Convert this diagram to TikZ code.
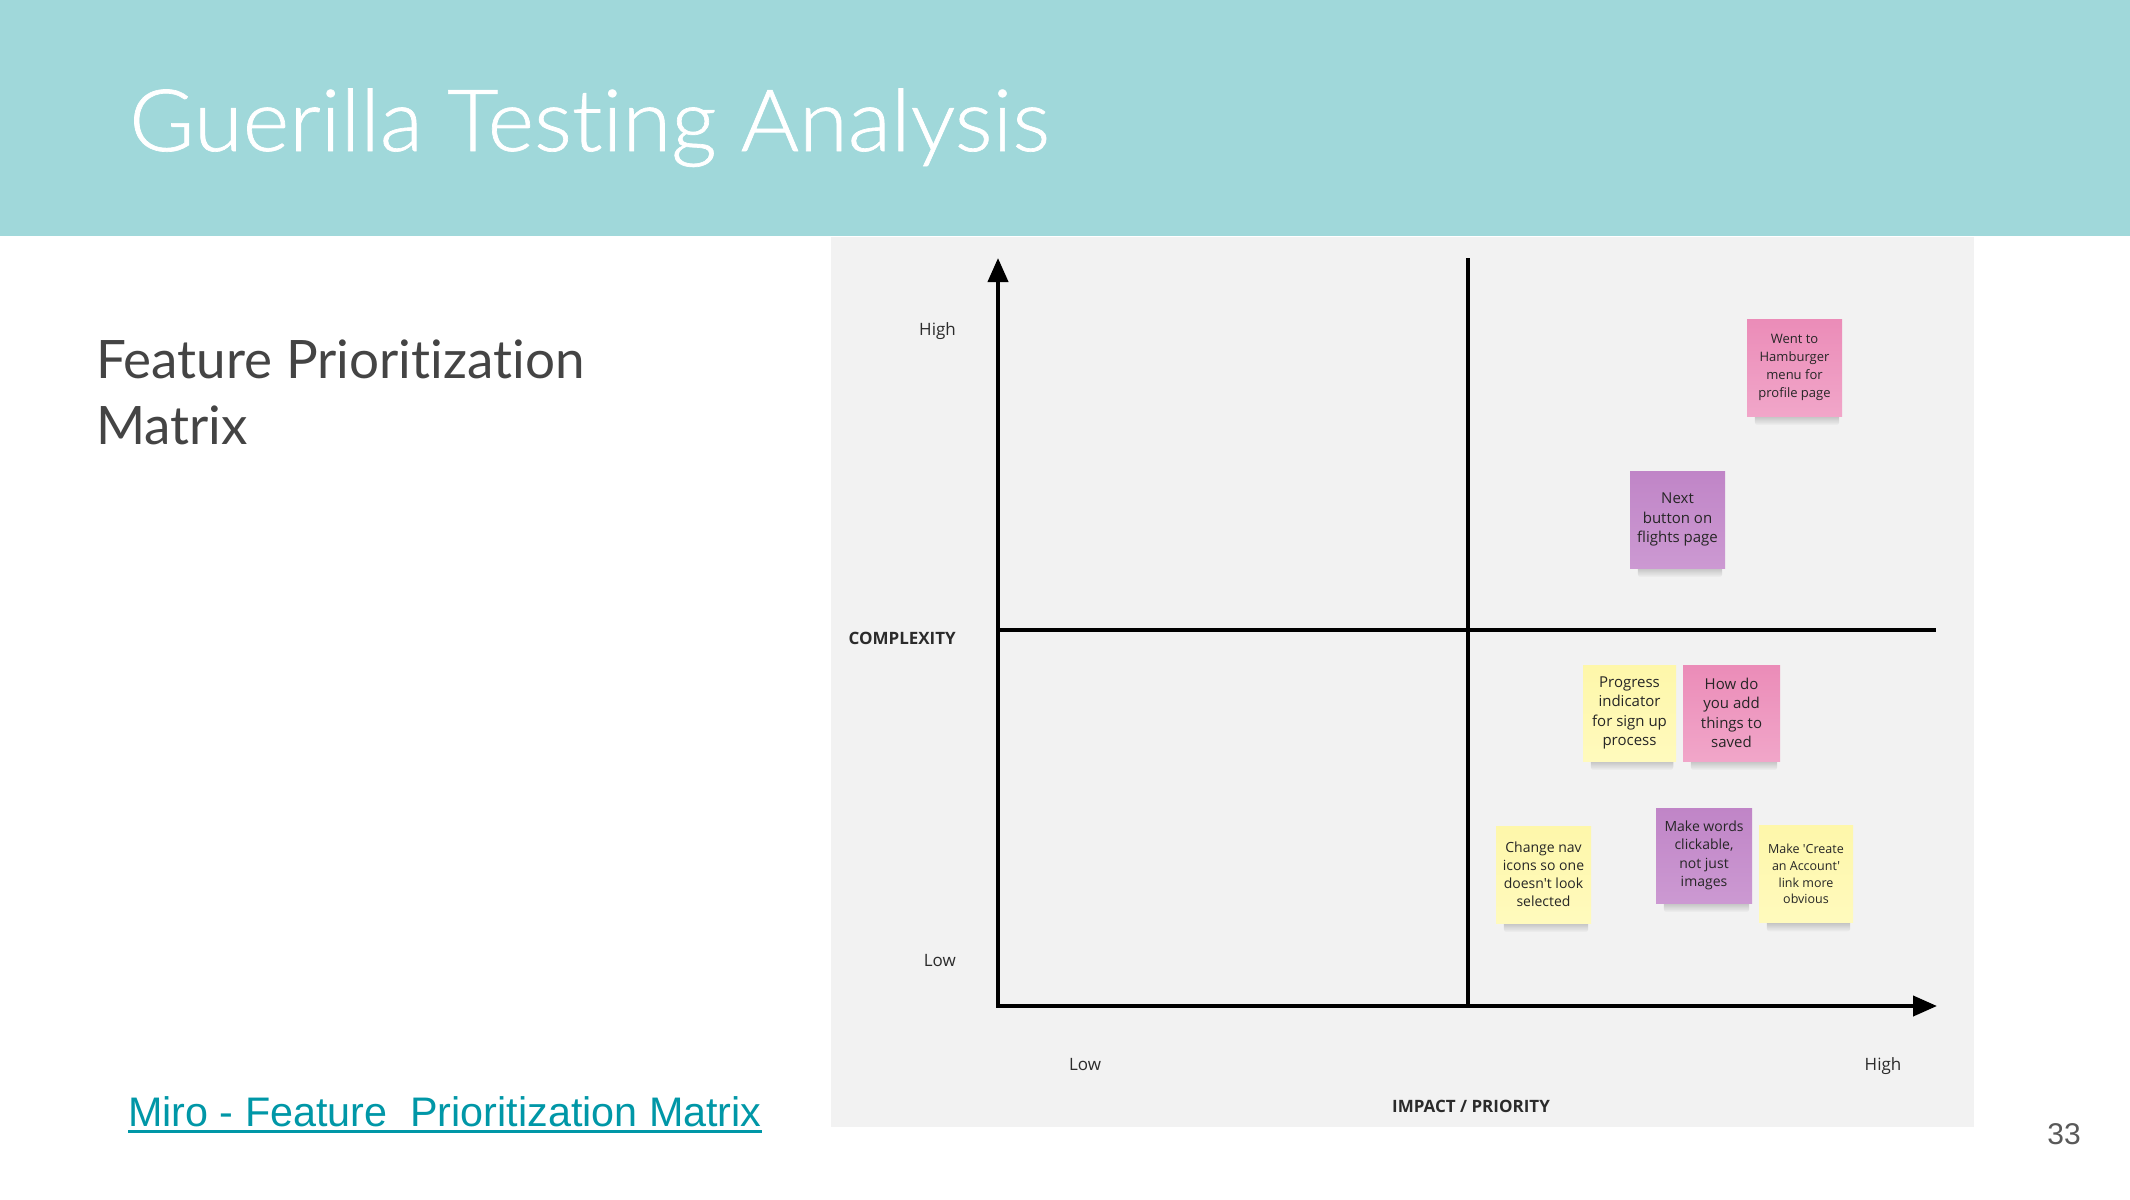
\documentclass[tikz,border=0pt]{standalone}
\usepackage{fontspec}
\setmainfont{Open Sans}[Ligatures=TeXOff]
\IfFontExistsTF{Lato Light}
  {\newfontfamily\latofont{Lato Light}[Ligatures=NoCommon,FakeStretch=1.035,FakeBold=0.8]}
  {\newfontfamily\latofont{Lato}[Ligatures=NoCommon,FakeStretch=1.035]}
\newfontfamily\latosub{Lato}[Ligatures=NoCommon]
\newfontfamily\arialfont{Liberation Sans}
\usetikzlibrary{arrows.meta,fadings}
\definecolor{headc}{HTML}{A0D8DA}
\definecolor{panelc}{HTML}{F2F2F2}
\definecolor{linkc}{HTML}{0097A7}
\definecolor{subc}{HTML}{444444}
\definecolor{numc}{HTML}{595959}
\definecolor{lblc}{HTML}{2B2B2B}
\definecolor{notetext}{HTML}{262626}
\definecolor{pinktop}{HTML}{EB8CB8}
\definecolor{pinkbot}{HTML}{F1A6C9}
\definecolor{purptop}{HTML}{C085C7}
\definecolor{purpbot}{HTML}{CC99D2}
\definecolor{yeltop}{HTML}{FEF7AA}
\definecolor{yelbot}{HTML}{FFFABD}
\pgfdeclarelayer{bg}
\pgfdeclarelayer{shade}
\pgfsetlayers{bg,shade,main}
\newcommand{\noteshadow}[1]{%
  \fill[black, opacity=0.28, path fading=south, rounded corners=3pt]
    ([xshift=8pt,yshift=4pt]#1.south west) rectangle ([xshift=-3pt,yshift=-9pt]#1.south east);}
\begin{document}
\begin{tikzpicture}[x=1pt,y=-1pt,
  axisline/.style={line width=4pt, black},
  lbl/.style={font=\fontsize{17}{20}\selectfont, text=lblc, inner sep=0pt},
  boldlbl/.style={font=\fontsize{17}{20}\selectfont\bfseries, text=lblc, inner sep=0pt},
  note/.style={minimum width=95pt, minimum height=97pt, inner sep=1pt, align=center,
    text=notetext, font=\fontsize{14}{18.2}\selectfont},
  pinknote/.style={note, top color=pinktop, bottom color=pinkbot},
  purpnote/.style={note, top color=purptop, bottom color=purpbot},
  yelnote/.style={note, top color=yeltop, bottom color=yelbot}
]
\useasboundingbox (0,0) rectangle (2130,1199);
\begin{pgfonlayer}{bg}
  \fill[white] (0,0) rectangle (2130,1199);
  \fill[headc] (0,0) rectangle (2130,236);
  \fill[panelc] (831,237) rectangle (1974,1127);
\end{pgfonlayer}

% title and left texts
\node[anchor=base west, inner sep=0pt, text=white, font=\latofont\fontsize{86}{90}\selectfont] (title) at (129,151) {Guerilla Testing Analysis};
\node[anchor=base west, inner sep=0pt, text=subc, font=\latosub\fontsize{53}{64}\selectfont] (sub1) at (96,378) {Feature Prioritization};
\node[anchor=base west, inner sep=0pt, text=subc, font=\latosub\fontsize{53}{64}\selectfont] (sub2) at (96,444) {Matrix};
\node[anchor=base west, inner sep=0pt, text=linkc, font=\arialfont\fontsize{41.3}{48}\selectfont] (link) at (128,1126) {Miro - Feature \ Prioritization Matrix};
\draw[linkc, line width=3pt] ([yshift=-5pt]link.base west) -- ([yshift=-5pt]link.base east);
\node[anchor=base east, inner sep=0pt, text=numc, font=\arialfont\fontsize{30}{36}\selectfont] (pnum) at (2081,1144) {33};

% axes
\coordinate (O) at (998,1006);
\coordinate (Ytop) at (998,258);
\coordinate (Xend) at (1937,1006);
\coordinate (Mtop) at (1468,258);
\coordinate (Mbot) at (1468,1006);
\coordinate (Hl) at (998,630);
\coordinate (Hr) at (1936,630);
\draw[axisline, {Triangle[length=24pt,width=20pt]}-{Triangle[length=24pt,width=20pt]}] (Ytop) -- (O) -- (Xend);
\draw[axisline] (Mtop) -- (Mbot);
\draw[axisline] (Hl) -- (Hr);

% axis labels
\node[lbl, anchor=base east] (yhigh) at (956,335) {High};
\node[boldlbl, anchor=base east] (ylab) at (956,644) {COMPLEXITY};
\node[lbl, anchor=base east] (ylow) at (956,966) {Low};
\node[lbl, anchor=base] (xlow) at (1085,1070) {Low};
\node[lbl, anchor=base] (xhigh) at (1883,1070) {High};
\node[boldlbl, anchor=base] (xlab) at (1471,1112) {IMPACT / PRIORITY};

% sticky notes
\node[pinknote, font=\fontsize{13}{18}\selectfont] (n1) at (1794.5,367.5) {Went to\\Hamburger\\menu for\\profile page};
\node[purpnote, font=\fontsize{15}{19.7}\selectfont] (n2) at (1677.5,519.5) {Next\\button on\\flights page};
\node[yelnote, minimum width=93pt, minimum height=96pt, font=\fontsize{15}{19.5}\selectfont] (n3) at (1629.5,713) {Progress\\indicator\\for sign up\\process};
\node[pinknote, minimum width=97pt, minimum height=96pt, font=\fontsize{15}{19.5}\selectfont] (n4) at (1731.5,713) {How do\\you add\\things to\\saved};
\node[yelnote, font=\fontsize{14}{18}\selectfont] (n5) at (1543.5,874.5) {Change nav\\icons so one\\doesn't look\\selected};
\node[purpnote, minimum width=96pt, minimum height=95pt, font=\fontsize{14}{18.3}\selectfont] (n6) at (1704,855.5) {Make words\\clickable,\\not just\\images};
\node[yelnote, minimum width=94pt, font=\fontsize{12.5}{16.8}\selectfont] (n7) at (1806,874) {Make 'Create\\an Account'\\link more\\obvious};

\begin{pgfonlayer}{shade}
  \noteshadow{n1}\noteshadow{n2}\noteshadow{n3}\noteshadow{n4}
  \noteshadow{n5}\noteshadow{n6}\noteshadow{n7}
\end{pgfonlayer}
\end{tikzpicture}
\end{document}
